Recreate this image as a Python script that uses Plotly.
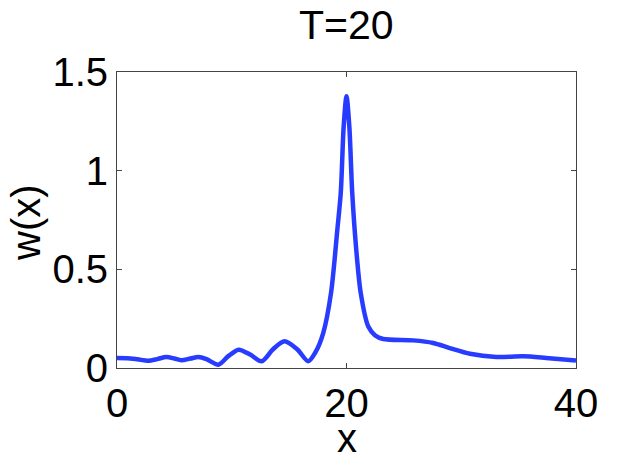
import plotly.graph_objects as go

x_vals = [0, 0.9, 1.8, 2.7, 3.5, 4.3, 5.0, 5.6, 6.4, 7.1, 7.8, 8.84, 9.7, 10.6, 11.6,
          12.6, 13.6, 14.6, 15.7, 16.67, 17.3, 17.97, 18.65, 19.2, 19.5, 19.75, 20.0,
          20.25, 20.5, 20.85, 21.24, 21.9, 22.5, 23.2, 25.8, 27.55, 29.0, 30.76, 33.05,
          35.4, 37.4, 40]
w_vals = [0.051, 0.050, 0.044, 0.037, 0.045, 0.056, 0.048, 0.039, 0.048, 0.056, 0.045,
          0.017, 0.060, 0.093, 0.068, 0.034, 0.095, 0.135, 0.095, 0.034, 0.08, 0.177,
          0.38, 0.70, 0.887, 1.22, 1.377, 1.22, 0.887, 0.60, 0.38, 0.21, 0.165, 0.147,
          0.14, 0.127, 0.101, 0.072, 0.056, 0.059, 0.051, 0.038]

x_ticks = [0, 20, 40]
x_ticklabels = ["0", "20", "40"]
y_ticks = [0, 0.5, 1, 1.5]
y_ticklabels = ["0", "0.5", "1", "1.5"]

FONT = "Liberation Sans, Arial, Helvetica, sans-serif"
W, H = 635, 459
L, R, T, B = 117, 59, 72, 91
PW, PH = W - L - R, H - T - B


def px_to_paper_x(px):
    return (px - L) / PW


def px_to_paper_y(py):
    return (H - B - py) / PH


fig = go.Figure()
fig.add_trace(go.Scatter(x=x_vals, y=w_vals, mode="lines",
                         line=dict(color="rgb(40,60,255)", width=4.5, shape="spline", smoothing=0.8),
                         showlegend=False, hoverinfo="skip"))

axis_common = dict(showline=True, linecolor="#444", linewidth=1, mirror="ticks",
                   ticks="inside", ticklen=5, tickcolor="#444", showgrid=False,
                   zeroline=False, automargin=False,
                   tickfont=dict(family=FONT, size=40, color="black"))

fig.update_layout(
    width=W, height=H,
    margin=dict(l=L, r=R, t=T, b=B),
    paper_bgcolor="white", plot_bgcolor="white",
    xaxis=dict(range=[0, 40], tickvals=x_ticks, ticktext=x_ticklabels, **axis_common),
    yaxis=dict(range=[0, 1.5], tickvals=y_ticks, ticktext=y_ticklabels, **axis_common),
    annotations=[
        dict(text="T=20", xref="paper", yref="paper", x=px_to_paper_x(346.5), y=px_to_paper_y(25),
             xanchor="center", yanchor="middle", showarrow=False,
             font=dict(family=FONT, size=41, color="black")),
        dict(text="x", xref="paper", yref="paper", x=px_to_paper_x(346.5), y=px_to_paper_y(438),
             xanchor="center", yanchor="middle", showarrow=False,
             font=dict(family=FONT, size=40, color="black")),
        dict(text="w(x)", xref="paper", yref="paper", x=px_to_paper_x(26), y=px_to_paper_y(223),
             xanchor="center", yanchor="middle", textangle=-90, showarrow=False,
             font=dict(family=FONT, size=40, color="black")),
    ],
)

fig.write_html("out.html", config={"displayModeBar": False},
               post_script="document.body.style.margin='0px';document.body.style.overflow='hidden';")
